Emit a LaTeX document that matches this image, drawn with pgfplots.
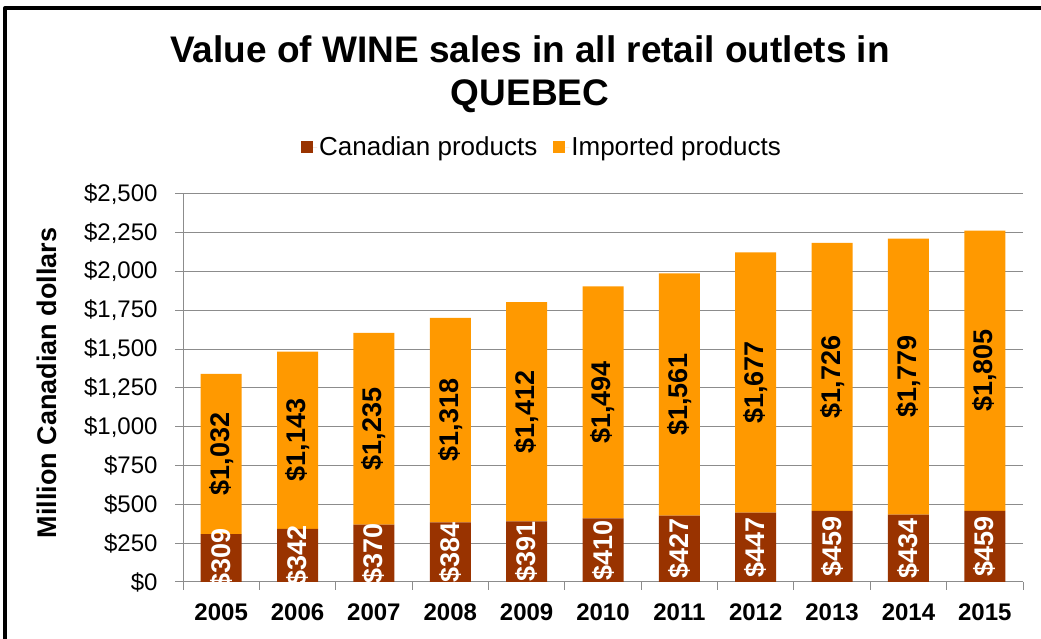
\documentclass[border=0pt]{standalone}
\usepackage{fontspec}
\setmainfont{Liberation Sans}
\usepackage{graphicx}
\usepackage{pgfplots}
\pgfplotsset{compat=1.18}
\definecolor{canad}{HTML}{993300}
\definecolor{impo}{HTML}{FF9900}
\definecolor{gridc}{HTML}{8C8C8C}
\begin{document}
\begin{tikzpicture}
\useasboundingbox (0,0) rectangle (1041pt,639pt);
\fill[white] (0,0) rectangle (1041pt,639pt);
\draw[line width=4pt, line join=round] (5pt,-5pt) -- (5pt,631pt) -- (1046pt,631pt);
\node[anchor=base, font=\fontsize{37}{44}\selectfont\bfseries] at (530pt,576pt) {Value of WINE sales in all retail outlets in};
\node[anchor=base, font=\fontsize{37}{44}\selectfont\bfseries] at (530pt,533pt) {QUEBEC};
\begin{axis}[
  at={(183pt,57pt)}, anchor=south west,
  scale only axis, width=840pt, height=388pt,
  ybar stacked, bar width=41pt,
  xmin=-0.5, xmax=10.5, ymin=0, ymax=2500,
  axis x line*=bottom, axis y line*=left,
  axis line style={gridc, line width=1pt, -},
  xtick={0,...,10},
  xticklabels={2005,2006,2007,2008,2009,2010,2011,2012,2013,2014,2015},
  major x tick style={draw=none},
  minor xtick={-0.5,0.5,...,10.5},
  minor x tick style={gridc, line width=1pt},
  ytick={0,250,...,2500},
  yticklabels={\$0,\$250,\$500,\$750,{\$1,000},{\$1,250},{\$1,500},{\$1,750},{\$2,000},{\$2,250},{\$2,500}},
  y tick style={gridc, line width=1pt},
  tick align=outside, major tick length=8pt, minor tick length=8pt,
  ymajorgrids, grid style={gridc, line width=1pt},
  xticklabel shift=10pt, yticklabel shift=14pt,
  xticklabel style={font=\fontsize{24}{28}\selectfont\bfseries},
  yticklabel style={font=\fontsize{24}{28}\selectfont},
  ylabel={Million Canadian dollars},
  every axis y label/.style={at={(axis description cs:-0.162,0.513)}, rotate=90, anchor=center, font=\fontsize{27}{31}\selectfont\bfseries},
  legend columns=2,
  legend style={at={(0.4274,1.121)}, anchor=center, draw=none, fill=none, font=\fontsize{26}{30}\selectfont, /tikz/every even column/.append style={column sep=14pt}},
  legend image code/.code={\fill[#1,draw=none] (0pt,-6pt) rectangle (12pt,6pt); \path (12pt,0pt) -- (16pt,0pt);},
  nodes near coords={\rotatebox{90}{\$\pgfmathprintnumber[fixed,precision=0,1000 sep={,},assume math mode=true]{\pgfplotspointmeta}}},
  nodes near coords align={center},
  every node near coord/.style={anchor=center, inner sep=0pt, font=\fontsize{27}{30}\selectfont\bfseries},
  clip marker paths=true,
]
\addplot[fill=canad, draw=none, nodes near coords style={text=white}] coordinates {
(0,309) (1,342) (2,370) (3,384) (4,391) (5,410)
(6,427) (7,447) (8,459) (9,434) (10,459)};
\addplot[fill=impo, draw=none, nodes near coords style={text=black}] coordinates {
(0,1032) (1,1143) (2,1235) (3,1318) (4,1412) (5,1494)
(6,1561) (7,1677) (8,1726) (9,1779) (10,1805)};
\legend{Canadian products, Imported products}
\end{axis}
\end{tikzpicture}
\end{document}
